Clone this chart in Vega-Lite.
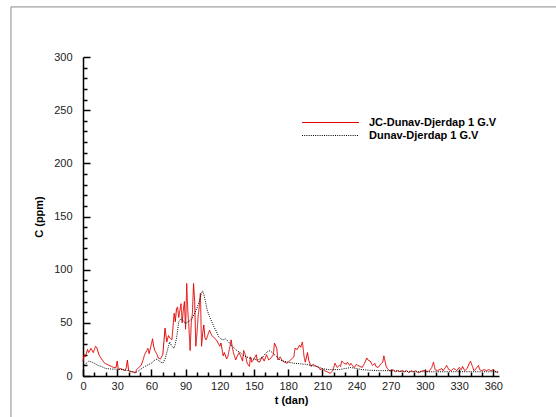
{
  "$schema": "https://vega.github.io/schema/vega-lite/v6.json",
  "autosize": "none",
  "width": 416,
  "height": 319,
  "padding": {"left": 83, "top": 57, "right": 57, "bottom": 41},
  "background": "white",
  "config": {
    "view": {"stroke": null},
    "font": "Liberation Sans",
    "axis": {"grid": false, "domainColor": "#000", "tickColor": "#000", "labelFont": "Liberation Sans", "labelFontSize": 11, "labelColor": "#222", "titleFont": "Liberation Sans", "titleFontSize": 11, "titleFontWeight": "bold", "titleColor": "#000", "domainWidth": 1.5, "tickWidth": 1.5}
  },
  "datasets": {
    "jc": [
      {"t":0,"C":14,"s":"JC"},{"t":1,"C":20,"s":"JC"},{"t":2,"C":18,"s":"JC"},{"t":4,"C":25,"s":"JC"},{"t":5,"C":22,"s":"JC"},{"t":7,"C":26,"s":"JC"},{"t":9,"C":22,"s":"JC"},{"t":11,"C":28,"s":"JC"},{"t":12,"C":27,"s":"JC"},{"t":14,"C":20,"s":"JC"},{"t":15,"C":18,"s":"JC"},{"t":17,"C":15,"s":"JC"},{"t":19,"C":12,"s":"JC"},{"t":21,"C":11,"s":"JC"},{"t":23,"C":10,"s":"JC"},{"t":25,"C":9,"s":"JC"},{"t":27,"C":8,"s":"JC"},{"t":29,"C":8,"s":"JC"},{"t":30,"C":14,"s":"JC"},{"t":31,"C":6,"s":"JC"},{"t":33,"C":7,"s":"JC"},{"t":35,"C":6,"s":"JC"},{"t":37,"C":5,"s":"JC"},{"t":38,"C":8,"s":"JC"},{"t":39,"C":15,"s":"JC"},{"t":40,"C":5,"s":"JC"},{"t":42,"C":4,"s":"JC"},{"t":44,"C":4,"s":"JC"},{"t":46,"C":3,"s":"JC"},{"t":47,"C":6,"s":"JC"},{"t":49,"C":8,"s":"JC"},{"t":51,"C":10,"s":"JC"},{"t":53,"C":16,"s":"JC"},{"t":54,"C":20,"s":"JC"},{"t":56,"C":24,"s":"JC"},{"t":57,"C":26,"s":"JC"},{"t":58,"C":21,"s":"JC"},{"t":60,"C":30,"s":"JC"},{"t":61,"C":35,"s":"JC"},{"t":62,"C":28,"s":"JC"},{"t":63,"C":24,"s":"JC"},{"t":65,"C":20,"s":"JC"},{"t":66,"C":17,"s":"JC"},{"t":68,"C":16,"s":"JC"},{"t":69,"C":18,"s":"JC"},{"t":70,"C":20,"s":"JC"},{"t":72,"C":45,"s":"JC"},{"t":73.5,"C":32,"s":"JC"},{"t":75,"C":38,"s":"JC"},{"t":76,"C":36,"s":"JC"},{"t":78,"C":34,"s":"JC"},{"t":80,"C":59,"s":"JC"},{"t":81,"C":51,"s":"JC"},{"t":82,"C":63,"s":"JC"},{"t":83,"C":65,"s":"JC"},{"t":84,"C":55,"s":"JC"},{"t":86,"C":68,"s":"JC"},{"t":87,"C":50,"s":"JC"},{"t":88,"C":62,"s":"JC"},{"t":89,"C":70,"s":"JC"},{"t":90,"C":44,"s":"JC"},{"t":91,"C":87,"s":"JC"},{"t":92,"C":60,"s":"JC"},{"t":93,"C":45,"s":"JC"},{"t":94,"C":24,"s":"JC"},{"t":95,"C":50,"s":"JC"},{"t":96,"C":59,"s":"JC"},{"t":97,"C":87,"s":"JC"},{"t":98,"C":70,"s":"JC"},{"t":99,"C":28,"s":"JC"},{"t":100,"C":40,"s":"JC"},{"t":101,"C":56,"s":"JC"},{"t":102,"C":65,"s":"JC"},{"t":103,"C":78,"s":"JC"},{"t":104,"C":28,"s":"JC"},{"t":105,"C":40,"s":"JC"},{"t":106,"C":48,"s":"JC"},{"t":107,"C":36,"s":"JC"},{"t":108,"C":34,"s":"JC"},{"t":110,"C":40,"s":"JC"},{"t":111,"C":43,"s":"JC"},{"t":113,"C":38,"s":"JC"},{"t":114,"C":37,"s":"JC"},{"t":116,"C":35,"s":"JC"},{"t":117,"C":34,"s":"JC"},{"t":119,"C":30,"s":"JC"},{"t":120,"C":28,"s":"JC"},{"t":121,"C":31,"s":"JC"},{"t":122,"C":25,"s":"JC"},{"t":123,"C":19,"s":"JC"},{"t":124,"C":22,"s":"JC"},{"t":126,"C":16,"s":"JC"},{"t":127,"C":18,"s":"JC"},{"t":129,"C":28,"s":"JC"},{"t":130,"C":34,"s":"JC"},{"t":131,"C":27,"s":"JC"},{"t":132,"C":22,"s":"JC"},{"t":134,"C":15,"s":"JC"},{"t":135,"C":18,"s":"JC"},{"t":137,"C":22,"s":"JC"},{"t":139,"C":17,"s":"JC"},{"t":140,"C":14,"s":"JC"},{"t":141,"C":24,"s":"JC"},{"t":143,"C":18,"s":"JC"},{"t":144,"C":12,"s":"JC"},{"t":146,"C":9,"s":"JC"},{"t":147,"C":18,"s":"JC"},{"t":148,"C":13,"s":"JC"},{"t":150,"C":16,"s":"JC"},{"t":152,"C":20,"s":"JC"},{"t":153,"C":14,"s":"JC"},{"t":155,"C":13,"s":"JC"},{"t":157,"C":18,"s":"JC"},{"t":159,"C":14,"s":"JC"},{"t":161,"C":20,"s":"JC"},{"t":163,"C":15,"s":"JC"},{"t":165,"C":17,"s":"JC"},{"t":167,"C":20,"s":"JC"},{"t":168,"C":31,"s":"JC"},{"t":170,"C":26,"s":"JC"},{"t":171,"C":15,"s":"JC"},{"t":173,"C":18,"s":"JC"},{"t":175,"C":14,"s":"JC"},{"t":177,"C":13,"s":"JC"},{"t":179,"C":12,"s":"JC"},{"t":181,"C":14,"s":"JC"},{"t":183,"C":16,"s":"JC"},{"t":185,"C":18,"s":"JC"},{"t":186,"C":26,"s":"JC"},{"t":188,"C":25,"s":"JC"},{"t":190,"C":29,"s":"JC"},{"t":191,"C":27,"s":"JC"},{"t":192.5,"C":32,"s":"JC"},{"t":194,"C":18,"s":"JC"},{"t":195,"C":13,"s":"JC"},{"t":197,"C":22,"s":"JC"},{"t":198,"C":15,"s":"JC"},{"t":200,"C":9,"s":"JC"},{"t":202,"C":11,"s":"JC"},{"t":203,"C":10,"s":"JC"},{"t":205,"C":9,"s":"JC"},{"t":207,"C":8,"s":"JC"},{"t":208,"C":6,"s":"JC"},{"t":210,"C":7,"s":"JC"},{"t":212,"C":5,"s":"JC"},{"t":214,"C":4,"s":"JC"},{"t":216,"C":3,"s":"JC"},{"t":217,"C":2.5,"s":"JC"},{"t":219,"C":5,"s":"JC"},{"t":220,"C":8,"s":"JC"},{"t":221,"C":12,"s":"JC"},{"t":223,"C":8,"s":"JC"},{"t":225,"C":10,"s":"JC"},{"t":226,"C":9,"s":"JC"},{"t":227,"C":14,"s":"JC"},{"t":229,"C":12,"s":"JC"},{"t":231,"C":11,"s":"JC"},{"t":232,"C":13,"s":"JC"},{"t":234,"C":10,"s":"JC"},{"t":235,"C":12,"s":"JC"},{"t":237,"C":9,"s":"JC"},{"t":238,"C":8,"s":"JC"},{"t":240,"C":11,"s":"JC"},{"t":241,"C":10,"s":"JC"},{"t":243,"C":9,"s":"JC"},{"t":245,"C":8,"s":"JC"},{"t":247,"C":12,"s":"JC"},{"t":249,"C":17,"s":"JC"},{"t":250,"C":15,"s":"JC"},{"t":252,"C":14,"s":"JC"},{"t":254,"C":10,"s":"JC"},{"t":256,"C":12,"s":"JC"},{"t":257,"C":9,"s":"JC"},{"t":259,"C":8,"s":"JC"},{"t":261,"C":11,"s":"JC"},{"t":263,"C":13,"s":"JC"},{"t":264,"C":19,"s":"JC"},{"t":266,"C":9,"s":"JC"},{"t":267,"C":7,"s":"JC"},{"t":269,"C":5,"s":"JC"},{"t":270,"C":5,"s":"JC"},{"t":272,"C":6,"s":"JC"},{"t":274,"C":4,"s":"JC"},{"t":276,"C":5,"s":"JC"},{"t":278,"C":4,"s":"JC"},{"t":280,"C":5,"s":"JC"},{"t":282,"C":4,"s":"JC"},{"t":284,"C":5,"s":"JC"},{"t":286,"C":3,"s":"JC"},{"t":288,"C":5,"s":"JC"},{"t":290,"C":4,"s":"JC"},{"t":292,"C":5,"s":"JC"},{"t":294,"C":3,"s":"JC"},{"t":296,"C":4,"s":"JC"},{"t":298,"C":5,"s":"JC"},{"t":300,"C":5,"s":"JC"},{"t":302,"C":4,"s":"JC"},{"t":304,"C":5,"s":"JC"},{"t":306,"C":8,"s":"JC"},{"t":307.5,"C":13,"s":"JC"},{"t":309,"C":6,"s":"JC"},{"t":311,"C":5,"s":"JC"},{"t":313,"C":6,"s":"JC"},{"t":315,"C":7,"s":"JC"},{"t":316,"C":5,"s":"JC"},{"t":318,"C":8,"s":"JC"},{"t":319,"C":10,"s":"JC"},{"t":321,"C":6,"s":"JC"},{"t":323,"C":5,"s":"JC"},{"t":325,"C":7,"s":"JC"},{"t":327,"C":6,"s":"JC"},{"t":328,"C":5,"s":"JC"},{"t":330,"C":8,"s":"JC"},{"t":332,"C":6,"s":"JC"},{"t":333,"C":9,"s":"JC"},{"t":335,"C":5,"s":"JC"},{"t":337,"C":7,"s":"JC"},{"t":339,"C":12,"s":"JC"},{"t":340,"C":14,"s":"JC"},{"t":342,"C":8,"s":"JC"},{"t":343,"C":5,"s":"JC"},{"t":345,"C":7,"s":"JC"},{"t":347,"C":10,"s":"JC"},{"t":348,"C":6,"s":"JC"},{"t":350,"C":5,"s":"JC"},{"t":352,"C":6,"s":"JC"},{"t":354,"C":5,"s":"JC"},{"t":356,"C":6,"s":"JC"},{"t":358,"C":5,"s":"JC"},{"t":360,"C":6,"s":"JC"},{"t":362,"C":4,"s":"JC"},{"t":364,"C":3,"s":"JC"}
    ],
    "dd": [
      {"t":0,"C":9,"s":"DD"},{"t":3,"C":12,"s":"DD"},{"t":5,"C":14,"s":"DD"},{"t":8,"C":13,"s":"DD"},{"t":10,"C":12,"s":"DD"},{"t":13,"C":10,"s":"DD"},{"t":16,"C":9,"s":"DD"},{"t":20,"C":7,"s":"DD"},{"t":25,"C":6.5,"s":"DD"},{"t":30,"C":6.5,"s":"DD"},{"t":35,"C":6,"s":"DD"},{"t":40,"C":5,"s":"DD"},{"t":43,"C":4,"s":"DD"},{"t":45,"C":3,"s":"DD"},{"t":48,"C":4,"s":"DD"},{"t":50,"C":6,"s":"DD"},{"t":53,"C":8,"s":"DD"},{"t":56,"C":10,"s":"DD"},{"t":60,"C":12,"s":"DD"},{"t":63,"C":15,"s":"DD"},{"t":65,"C":16,"s":"DD"},{"t":67,"C":14,"s":"DD"},{"t":70,"C":12,"s":"DD"},{"t":72,"C":16,"s":"DD"},{"t":74,"C":24,"s":"DD"},{"t":76,"C":32,"s":"DD"},{"t":78,"C":28,"s":"DD"},{"t":80,"C":26,"s":"DD"},{"t":82,"C":35,"s":"DD"},{"t":84,"C":51,"s":"DD"},{"t":86,"C":54,"s":"DD"},{"t":88,"C":52,"s":"DD"},{"t":90,"C":49,"s":"DD"},{"t":92,"C":51,"s":"DD"},{"t":94,"C":52,"s":"DD"},{"t":96,"C":55,"s":"DD"},{"t":98,"C":59,"s":"DD"},{"t":100,"C":64,"s":"DD"},{"t":102,"C":70,"s":"DD"},{"t":104,"C":78,"s":"DD"},{"t":105,"C":80,"s":"DD"},{"t":106,"C":77,"s":"DD"},{"t":107,"C":72,"s":"DD"},{"t":109,"C":62,"s":"DD"},{"t":111,"C":56,"s":"DD"},{"t":113,"C":51,"s":"DD"},{"t":115,"C":46,"s":"DD"},{"t":117,"C":42,"s":"DD"},{"t":119,"C":37,"s":"DD"},{"t":121,"C":35,"s":"DD"},{"t":123,"C":34,"s":"DD"},{"t":125,"C":35,"s":"DD"},{"t":127,"C":33,"s":"DD"},{"t":130,"C":29,"s":"DD"},{"t":133,"C":26,"s":"DD"},{"t":135,"C":24,"s":"DD"},{"t":138,"C":22,"s":"DD"},{"t":140,"C":20,"s":"DD"},{"t":143,"C":18,"s":"DD"},{"t":145,"C":17.5,"s":"DD"},{"t":148,"C":16,"s":"DD"},{"t":150,"C":16,"s":"DD"},{"t":153,"C":15,"s":"DD"},{"t":155,"C":16,"s":"DD"},{"t":158,"C":18,"s":"DD"},{"t":160,"C":21,"s":"DD"},{"t":163,"C":24,"s":"DD"},{"t":165,"C":23,"s":"DD"},{"t":167,"C":21,"s":"DD"},{"t":170,"C":18,"s":"DD"},{"t":173,"C":15,"s":"DD"},{"t":176,"C":14,"s":"DD"},{"t":180,"C":13,"s":"DD"},{"t":185,"C":12,"s":"DD"},{"t":190,"C":11.5,"s":"DD"},{"t":195,"C":11,"s":"DD"},{"t":200,"C":10,"s":"DD"},{"t":205,"C":9,"s":"DD"},{"t":210,"C":7,"s":"DD"},{"t":215,"C":6,"s":"DD"},{"t":220,"C":6,"s":"DD"},{"t":225,"C":6,"s":"DD"},{"t":230,"C":7,"s":"DD"},{"t":235,"C":8,"s":"DD"},{"t":240,"C":7,"s":"DD"},{"t":245,"C":6,"s":"DD"},{"t":250,"C":5.5,"s":"DD"},{"t":260,"C":5,"s":"DD"},{"t":270,"C":5,"s":"DD"},{"t":280,"C":4.5,"s":"DD"},{"t":290,"C":4,"s":"DD"},{"t":300,"C":4,"s":"DD"},{"t":310,"C":4,"s":"DD"},{"t":320,"C":4,"s":"DD"},{"t":330,"C":4,"s":"DD"},{"t":340,"C":4,"s":"DD"},{"t":350,"C":4,"s":"DD"},{"t":360,"C":4,"s":"DD"},{"t":365,"C":4,"s":"DD"}
    ]
  },
  "resolve": {"axis": {"x": "independent", "y": "independent"}},
  "layer": [
    {
      "data": {"values": [{"f": 1}]},
      "mark": {"type": "rect", "fill": null, "stroke": "#8a8a8a", "strokeWidth": 1, "clip": false},
      "encoding": {
        "x": {"datum": -63.2, "type": "quantitative", "scale": {"domain": [0, 365], "nice": false}, "axis": null},
        "x2": {"datum": 700},
        "y": {"datum": 347.1, "type": "quantitative", "scale": {"domain": [0, 300], "nice": false}, "axis": null},
        "y2": {"datum": -200}
      }
    },
    {
      "data": {"name": "jc"},
      "mark": {"type": "line", "strokeWidth": 1, "clip": false},
      "encoding": {
        "x": {"field": "t", "type": "quantitative", "scale": {"domain": [0, 365], "nice": false},
              "axis": {"orient": "bottom", "title": "t (dan)", "values": [0,30,60,90,120,150,180,210,240,270,300,330,360], "tickSize": -7, "labelPadding": 11, "titlePadding": 3, "labelFlush": false}},
        "y": {"field": "C", "type": "quantitative", "scale": {"domain": [0, 300], "nice": false},
              "axis": {"orient": "left", "title": "C (ppm)", "values": [0,50,100,150,200,250,300], "tickSize": -7, "labelPadding": 18, "titlePadding": 9, "labelFlush": false}},
        "color": {"field": "s", "type": "nominal", "scale": {"domain": ["JC", "DD"], "range": ["#e00000", "#000000"]},
                  "legend": {"title": null, "orient": "none", "legendX": 241, "legendY": 59, "symbolType": "M-5,0H5", "symbolSize": 130, "symbolStrokeWidth": 1, "labelFont": "Liberation Sans", "labelFontSize": 11, "labelFontWeight": "bold", "labelColor": "#000", "labelOffset": 32, "rowPadding": 1, "padding": 0, "labelExpr": "datum.label == 'JC' ? 'JC-Dunav-Djerdap 1 G.V' : 'Dunav-Djerdap 1 G.V'"}},
        "strokeDash": {"field": "s", "type": "nominal", "scale": {"domain": ["JC", "DD"], "range": [[1, 0], [1, 1.2]]},
                  "legend": {"title": null, "orient": "none", "legendX": 241, "legendY": 59, "symbolType": "M-5,0H5", "symbolSize": 130, "symbolStrokeWidth": 1, "labelFont": "Liberation Sans", "labelFontSize": 11, "labelFontWeight": "bold", "labelColor": "#000", "labelOffset": 32, "rowPadding": 1, "padding": 0, "labelExpr": "datum.label == 'JC' ? 'JC-Dunav-Djerdap 1 G.V' : 'Dunav-Djerdap 1 G.V'"}}
      }
    },
    {
      "data": {"name": "dd"},
      "mark": {"type": "line", "strokeWidth": 1, "clip": false},
      "encoding": {
        "x": {"field": "t", "type": "quantitative", "scale": {"domain": [0, 365], "nice": false},
              "axis": {"orient": "bottom", "title": null, "labels": false, "domain": false, "values": [10,20,40,50,70,80,100,110,130,140,160,170,190,200,220,230,250,260,280,290,310,320,340,350], "tickSize": -4}},
        "y": {"field": "C", "type": "quantitative", "scale": {"domain": [0, 300], "nice": false},
              "axis": {"orient": "left", "title": null, "labels": false, "domain": false, "values": [10,20,30,40,60,70,80,90,110,120,130,140,160,170,180,190,210,220,230,240,260,270,280,290], "tickSize": -4}},
        "color": {"field": "s", "type": "nominal"},
        "strokeDash": {"field": "s", "type": "nominal"}
      }
    }
  ]
}
